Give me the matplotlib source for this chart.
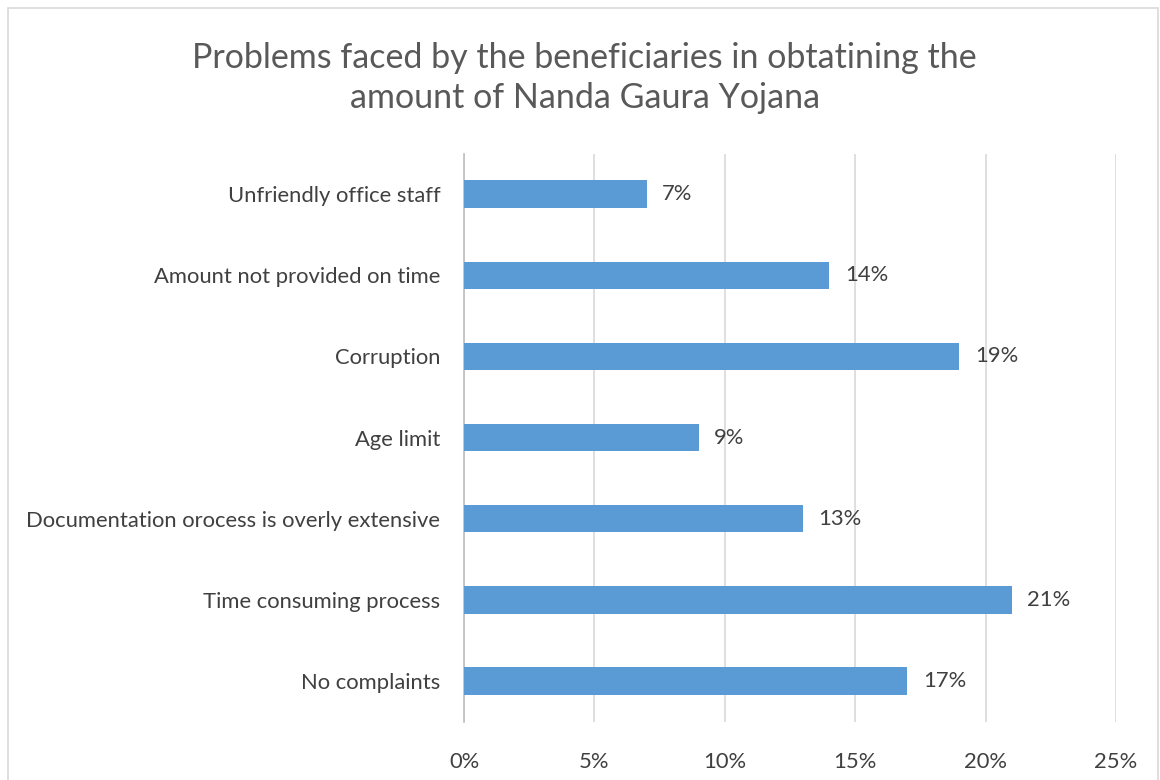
import matplotlib

matplotlib.use("Agg")
import matplotlib.pyplot as plt
from matplotlib.patches import Rectangle
from matplotlib.ticker import FuncFormatter, MultipleLocator

categories = [
    "No complaints",
    "Time consuming process",
    "Documentation orocess is overly extensive",
    "Age limit",
    "Corruption",
    "Amount not provided on time",
    "Unfriendly office staff",
]
percent = [17, 21, 13, 9, 19, 14, 7]

plt.rcParams["font.family"] = ["Lato", "DejaVu Sans"]

fig = plt.figure(figsize=(11.6, 7.8), dpi=100)
ax = fig.add_axes([0.4, 0.075, 0.562, 0.728])

y = list(range(len(categories)))
ax.barh(y, percent, height=0.34, color="#5B9BD5", zorder=3)
for yi, v in zip(y, percent):
    ax.text(v + 0.6, yi, f"{v}%", va="center", ha="left", fontsize=15.8, color="#404040")

ax.set_xlim(0, 25)
ax.set_ylim(-0.5, len(categories) - 0.5)
ax.xaxis.set_major_locator(MultipleLocator(5))
ax.xaxis.set_major_formatter(FuncFormatter(lambda v, _: f"{v:.0f}%"))
ax.set_yticks(y)
ax.set_yticklabels(categories)
ax.tick_params(axis="both", length=0, labelsize=15.8, labelcolor="#404040")
ax.tick_params(axis="x", pad=22)
ax.tick_params(axis="y", pad=17)
ax.grid(axis="x", color="#D9D9D9", linewidth=1.2, zorder=0)
for side in ["top", "right", "bottom"]:
    ax.spines[side].set_visible(False)
ax.spines["left"].set_color("#BFBFBF")
ax.spines["left"].set_linewidth(1.2)

fig.text(0.504, 0.9, "Problems faced by the beneficiaries in obtatining the\namount of Nanda Gaura Yojana",
         ha="center", va="center", fontsize=24.5, color="#595959", linespacing=1.32)

fig.patches.append(Rectangle((8 / 1160, -0.01), 1150 / 1160, 1 - 8 / 780 + 0.01,
                             transform=fig.transFigure, fill=False, edgecolor="#D9D9D9", linewidth=1.2))

fig.savefig("out.png", dpi=100)
